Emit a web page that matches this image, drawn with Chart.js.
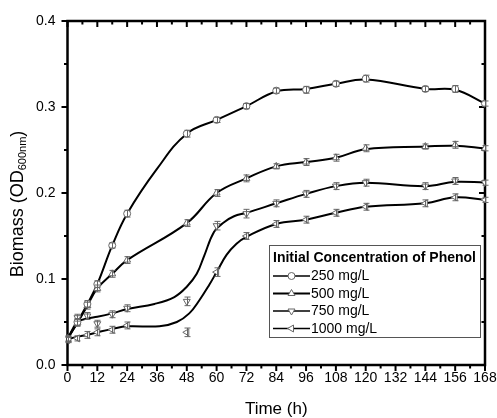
<!DOCTYPE html>
<html><head><meta charset="utf-8">
<script src="https://cdn.jsdelivr.net/npm/chart.js@4.4.0/dist/chart.umd.min.js"></script>
<style>html,body{margin:0;padding:0;background:#fff;}canvas{display:block;}</style>
</head><body>
<canvas id="c" width="497" height="418"></canvas>
<script>
// ---- data ----
const times = [0, 4, 8, 12, 18, 24, 48, 60, 72, 84, 96, 108, 120, 144, 156, 168];
const od250 = [0.030, 0.050, 0.071, 0.094, 0.139, 0.176, 0.269, 0.285, 0.301, 0.319, 0.320, 0.327, 0.333, 0.321, 0.321, 0.304];
const od500 = [0.031, 0.049, 0.069, 0.089, 0.106, 0.122, 0.165, 0.200, 0.217, 0.231, 0.236, 0.241, 0.252, 0.254, 0.256, 0.252];
const od750 = [0.030, 0.055, 0.057, 0.048, 0.059, 0.066, 0.074, 0.162, 0.176, 0.188, 0.199, 0.208, 0.212, 0.208, 0.214, 0.212];
const od1000 = [0.029, 0.031, 0.035, 0.038, 0.041, 0.046, 0.038, 0.108, 0.150, 0.164, 0.169, 0.177, 0.184, 0.188, 0.195, 0.192];
// error bar half-widths (approximate)
const err250 = [0.003, 0.004, 0.004, 0.004, 0.003, 0.004, 0.004, 0.003, 0.003, 0.003, 0.004, 0.003, 0.004, 0.003, 0.004, 0.003];
const err500 = [0.003, 0.004, 0.004, 0.004, 0.004, 0.004, 0.004, 0.004, 0.004, 0.003, 0.004, 0.004, 0.004, 0.003, 0.004, 0.003];
const err750 = [0.003, 0.004, 0.004, 0.004, 0.004, 0.004, 0.005, 0.005, 0.005, 0.004, 0.004, 0.004, 0.004, 0.004, 0.004, 0.003];
const err1000 = [0.003, 0.003, 0.004, 0.004, 0.004, 0.004, 0.005, 0.005, 0.004, 0.004, 0.004, 0.004, 0.004, 0.004, 0.004, 0.003];

// smoothed (B-spline) curves as they appear in the picture
const curve250T = [0, 4, 8, 12, 18, 24, 36, 48, 60, 72, 84, 96, 108, 120, 144, 156, 168];
const curve250V = [0.030, 0.050, 0.071, 0.094, 0.139, 0.176, 0.228, 0.269, 0.285, 0.301, 0.318, 0.321, 0.327, 0.332, 0.321, 0.320, 0.304];
const curve500T = [0, 4, 8, 12, 18, 24, 48, 60, 72, 84, 96, 108, 120, 144, 156, 168];
const curve500V = [0.031, 0.049, 0.069, 0.089, 0.106, 0.122, 0.165, 0.200, 0.217, 0.231, 0.236, 0.241, 0.251, 0.254, 0.255, 0.252];
const curve750T = [0, 4, 8, 12, 18, 24, 35, 43, 48, 52, 55, 59, 63, 67, 72, 84, 96, 108, 120, 144, 156, 168];
const curve750V = [0.030, 0.050, 0.054, 0.056, 0.060, 0.065, 0.071, 0.079, 0.091, 0.106, 0.127, 0.155, 0.166, 0.173, 0.177, 0.188, 0.199, 0.208, 0.212, 0.208, 0.213, 0.212];
const curve1000T = [0, 4, 8, 12, 18, 24, 37, 44, 49, 53, 57, 60, 64, 68, 72, 84, 96, 108, 120, 144, 156, 168];
const curve1000V = [0.030, 0.033, 0.035, 0.038, 0.042, 0.045, 0.045, 0.050, 0.060, 0.075, 0.093, 0.108, 0.128, 0.141, 0.149, 0.164, 0.169, 0.177, 0.184, 0.188, 0.195, 0.192];

const seriesNames = ['250 mg/L', '500 mg/L', '750 mg/L', '1000 mg/L'];
const legendTitle = 'Initial Concentration of Phenol';
const xTickVals = [0, 12, 24, 36, 48, 60, 72, 84, 96, 108, 120, 132, 144, 156, 168];
const yTickVals = [0.0, 0.1, 0.2, 0.3, 0.4];
const xTitle = 'Time (h)';
const yTitleMain = 'Biomass (OD';
const yTitleSub = '600nm';
const yTitleEnd = ')';

// ---- styling ----
const FONT = '"Liberation Sans", Arial, sans-serif';
const MCOL = '#666';
const styles = [
  {pointStyle: 'circle', rot: 0, r: 3.5},
  {pointStyle: 'triangle', rot: 0, r: 4},
  {pointStyle: 'triangle', rot: 180, r: 4},
  {pointStyle: 'triangle', rot: 270, r: 4}
];
const zip = (xs, ys) => xs.map((x, i) => ({x: x, y: ys[i]}));

const curves = [[curve250T, curve250V], [curve500T, curve500V], [curve750T, curve750V], [curve1000T, curve1000V]];
const markers = [od250, od500, od750, od1000];
const errs = [err250, err500, err750, err1000];

const datasets = [];
curves.forEach((c, i) => {
  datasets.push({
    type: 'line', data: zip(c[0], c[1]), borderColor: '#000', borderWidth: 2,
    pointRadius: 0, fill: false, tension: 0.4, order: 2
  });
});
markers.forEach((m, i) => {
  datasets.push({
    type: 'line', data: zip(times, m), showLine: false,
    pointStyle: styles[i].pointStyle, pointRotation: styles[i].rot, pointRadius: styles[i].r,
    pointBackgroundColor: '#fff', pointBorderColor: MCOL, pointBorderWidth: 1, order: 1
  });
});

function drawMarker(ctx, st, x, y) {
  ctx.save();
  ctx.translate(x, y);
  ctx.rotate(st.rot * Math.PI / 180);
  ctx.beginPath();
  if (st.pointStyle === 'circle') {
    ctx.arc(0, 0, st.r, 0, Math.PI * 2);
  } else {
    const r = st.r;
    const s = r * 3 / Math.sqrt(3);
    const h = s * Math.sqrt(3) / 2;
    ctx.moveTo(0, -r);
    ctx.lineTo(s / 2, -r + h);
    ctx.lineTo(-s / 2, -r + h);
    ctx.closePath();
  }
  ctx.fillStyle = '#fff';
  ctx.fill();
  ctx.lineWidth = 1;
  ctx.strokeStyle = MCOL;
  ctx.stroke();
  ctx.restore();
}

const framePlugin = {
  id: 'frame',
  beforeDatasetsDraw(chart) {
    const ctx = chart.ctx, xs = chart.scales.x, ys = chart.scales.y;
    const L = xs.left, R = xs.right, T = ys.top, B = ys.bottom;
    ctx.save();
    ctx.strokeStyle = '#000';
    ctx.lineWidth = 2.5;
    ctx.strokeRect(L, T, R - L, B - T);
    ctx.lineWidth = 2;
    ctx.beginPath();
    for (let t = 0; t <= 168; t += 6) {
      const px = xs.getPixelForValue(t);
      const len = (t % 12 === 0) ? 6 : 3.5;
      ctx.moveTo(px, B); ctx.lineTo(px, B + len);
      ctx.moveTo(px, T); ctx.lineTo(px, T + len);
    }
    for (let k = 0; k <= 8; k++) {
      const v = k * 0.05;
      const py = ys.getPixelForValue(v);
      const len = (k % 2 === 0) ? 6 : 3.5;
      ctx.moveTo(L - len, py); ctx.lineTo(L, py);
      ctx.moveTo(R - len, py); ctx.lineTo(R, py);
    }
    ctx.stroke();
    ctx.restore();
  },
  afterDatasetsDraw(chart) {
    // error bars on top of the markers
    const ctx = chart.ctx, xs = chart.scales.x, ys = chart.scales.y;
    ctx.save();
    ctx.strokeStyle = MCOL;
    ctx.lineWidth = 1;
    ctx.beginPath();
    errs.forEach((e, i) => {
      markers[i].forEach((v, j) => {
        const px = Math.round(xs.getPixelForValue(times[j])) + 0.5;
        const y1 = ys.getPixelForValue(v + e[j]);
        const y2 = ys.getPixelForValue(v - e[j]);
        ctx.moveTo(px, y1); ctx.lineTo(px, y2);
        ctx.moveTo(px - 3, y1); ctx.lineTo(px + 3, y1);
        ctx.moveTo(px - 3, y2); ctx.lineTo(px + 3, y2);
      });
    });
    ctx.stroke();
    ctx.restore();
  },
  afterDraw(chart) {
    const ctx = chart.ctx, xs = chart.scales.x;
    ctx.save();
    ctx.fillStyle = '#000';
    // x title
    ctx.font = '17px ' + FONT;
    ctx.textAlign = 'center';
    ctx.textBaseline = 'middle';
    ctx.fillText(xTitle, (xs.left + xs.right) / 2, 409);
    // y title, rotated, with subscript
    ctx.translate(17, 204);
    ctx.rotate(-Math.PI / 2);
    const big = '18px ' + FONT, small = '11px ' + FONT;
    ctx.font = big; const w1 = ctx.measureText(yTitleMain).width; const w3 = ctx.measureText(yTitleEnd).width;
    ctx.font = small; const w2 = ctx.measureText(yTitleSub).width;
    let x0 = -(w1 + w2 + w3) / 2;
    ctx.textAlign = 'left';
    ctx.textBaseline = 'alphabetic';
    ctx.font = big; ctx.fillText(yTitleMain, x0, 6);
    ctx.font = small; ctx.fillText(yTitleSub, x0 + w1, 9);
    ctx.font = big; ctx.fillText(yTitleEnd, x0 + w1 + w2, 6);
    ctx.restore();

    // legend
    ctx.save();
    const bx = 269.5, by = 245.5, bw = 211, bh = 92;
    ctx.strokeStyle = '#555';
    ctx.lineWidth = 1;
    ctx.fillStyle = '#fff';
    ctx.fillRect(bx, by, bw, bh);
    ctx.strokeRect(bx, by, bw, bh);
    ctx.fillStyle = '#000';
    ctx.font = 'bold 14px ' + FONT;
    ctx.textAlign = 'left';
    ctx.textBaseline = 'middle';
    ctx.fillText(legendTitle, 273, 258.5);
    ctx.font = '14px ' + FONT;
    const rows = [276, 293.5, 311, 328.5];
    seriesNames.forEach((name, i) => {
      const y = rows[i];
      ctx.strokeStyle = '#000';
      ctx.lineWidth = i === 1 ? 2 : 1.5;
      ctx.beginPath(); ctx.moveTo(273, y); ctx.lineTo(310, y); ctx.stroke();
      drawMarker(ctx, styles[i], 291.5, y);
      ctx.fillStyle = '#000';
      ctx.fillText(name, 311, y + 0.5);
    });
    ctx.restore();
  }
};

new Chart(document.getElementById('c'), {
  data: {datasets: datasets},
  options: {
    responsive: false,
    animation: false,
    layout: {padding: {left: 0, right: 0, top: 21, bottom: 0}},
    plugins: {legend: {display: false}, tooltip: {enabled: false}},
    scales: {
      x: {
        type: 'linear', min: 0, max: 168,
        grid: {display: false, drawTicks: false}, border: {display: false},
        afterBuildTicks: s => { s.ticks = xTickVals.map(v => ({value: v})); },
        afterFit: s => { s.height = 53; s.paddingLeft = 0; s.paddingRight = 12; },
        ticks: {color: '#000', font: {family: FONT, size: 14}, padding: 5, maxRotation: 0, autoSkip: false}
      },
      y: {
        type: 'linear', min: 0, max: 0.4,
        grid: {display: false, drawTicks: false}, border: {display: false},
        afterBuildTicks: s => { s.ticks = yTickVals.map(v => ({value: v})); },
        afterFit: s => { s.width = 67.5; s.paddingTop = 0; s.paddingBottom = 0; },
        ticks: {color: '#000', font: {family: FONT, size: 14}, padding: 12, callback: v => v.toFixed(1)}
      }
    }
  },
  plugins: [framePlugin]
});
</script>
</body></html>
